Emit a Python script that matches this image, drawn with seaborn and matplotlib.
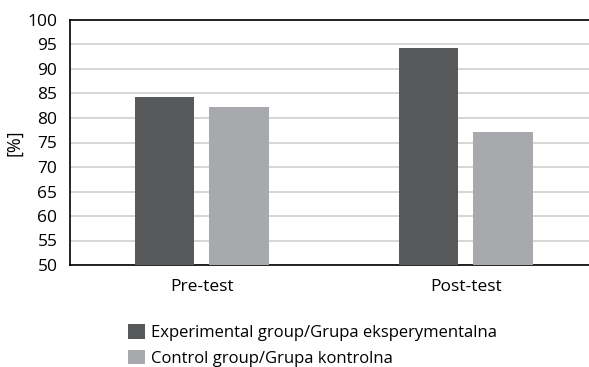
import matplotlib
matplotlib.use("Agg")
from matplotlib import pyplot as plt
import pandas as pd
import seaborn as sns

sns.set_style("white")
plt.rcParams["font.family"] = ["Open Sans", "DejaVu Sans"]
plt.rcParams["font.size"] = 12.5
plt.rcParams["text.color"] = "black"
plt.rcParams["axes.labelcolor"] = "black"
plt.rcParams["xtick.color"] = "black"
plt.rcParams["ytick.color"] = "black"

tests = ["Pre-test", "Post-test"]
groups = ["Experimental group/Grupa eksperymentalna", "Control group/Grupa kontrolna"]
experimental = [84.2, 94.2]
control = [82.2, 77.1]
colors = ["#58595b", "#a7a9ac"]

df = pd.DataFrame({
    "test": tests * 2,
    "group": [groups[0]] * 2 + [groups[1]] * 2,
    "value": experimental + control,
})

fig = plt.figure(figsize=(5.89, 3.67), dpi=100)
ax = fig.add_axes([70 / 589, 1 - 265 / 367, 1 - 70 / 589, 245 / 367])
sns.barplot(data=df, x="test", y="value", hue="group", palette=colors,
            width=0.568, gap=0.2, saturation=1, linewidth=0, ax=ax, zorder=3,
            legend=True)

ax.set_ylim(50, 100)
ax.set_yticks(range(50, 101, 5))
ax.set_xlim(-0.5, 1.466)
ax.yaxis.grid(True, color="#d0d0d0", linewidth=1.2, zorder=0)
ax.set_axisbelow(True)
ax.set_xlabel("")
ax.set_ylabel("[%]", labelpad=3, fontsize=13)
ax.tick_params(axis="y", length=0, pad=9)
ax.tick_params(axis="x", length=0, pad=10)
for s in ["left", "top", "bottom"]:
    ax.spines[s].set_color("black")
    ax.spines[s].set_linewidth(1.2)
ax.spines["right"].set_visible(False)

handles, labels = ax.get_legend_handles_labels()
ax.get_legend().remove()
fig.legend(handles, labels, loc="upper left", bbox_to_anchor=(128 / 589, 1 - 324 / 367),
           frameon=False, borderpad=0, borderaxespad=0, handlelength=1.0,
           handleheight=1.0, handletextpad=0.4, labelspacing=0.5, fontsize=12)

fig.savefig("out.png", dpi=100)
